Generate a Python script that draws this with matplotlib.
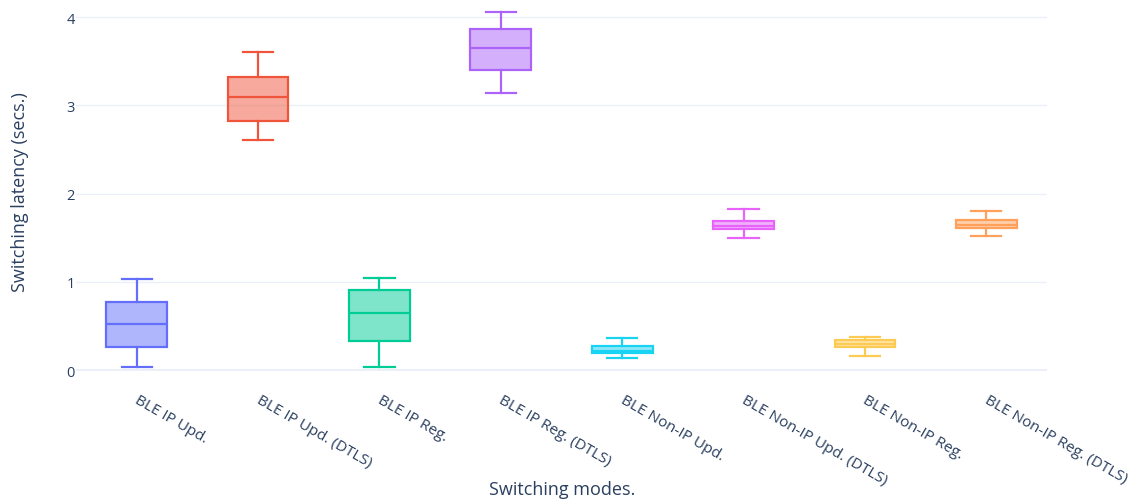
import matplotlib
matplotlib.use("Agg")
import matplotlib.pyplot as plt
import matplotlib.transforms as mtransforms
from matplotlib.colors import to_rgba

plt.rcParams['font.family'] = ['Open Sans', 'DejaVu Sans']

categories = ["BLE IP Upd.", "BLE IP Upd. (DTLS)", "BLE IP Reg.", "BLE IP Reg. (DTLS)",
              "BLE Non-IP Upd.", "BLE Non-IP Upd. (DTLS)", "BLE Non-IP Reg.", "BLE Non-IP Reg. (DTLS)"]
whislo = [0.03, 2.61, 0.03, 3.14, 0.14, 1.50, 0.16, 1.52]
q1     = [0.26, 2.82, 0.33, 3.40, 0.19, 1.60, 0.26, 1.61]
median = [0.52, 3.09, 0.65, 3.65, 0.22, 1.63, 0.30, 1.64]
q3     = [0.77, 3.32, 0.91, 3.86, 0.275, 1.685, 0.34, 1.70]
whishi = [1.03, 3.60, 1.04, 4.06, 0.36, 1.82, 0.37, 1.80]
colors = ["#636EFA", "#EF553B", "#00CC96", "#AB63FA", "#19D3F3", "#E763FA", "#FECB52", "#FFA15A"]

text_color = "#2a3f5f"
grid_color = "#EBF0F8"

W, H = 1137, 502
fig = plt.figure(figsize=(W / 100, H / 100), dpi=100)
left_px, right_px = 76, 1047
top_px, bot_px = 0.35, 381.6
ax = fig.add_axes([left_px / W, (H - bot_px) / H, (right_px - left_px) / W, (bot_px - top_px) / H])

lw = 2.2 * 72 / 100
for i, cat in enumerate(categories):
    stats = [dict(med=median[i], q1=q1[i], q3=q3[i], whislo=whislo[i], whishi=whishi[i],
                  fliers=[], label=cat)]
    c = colors[i]
    ax.bxp(stats, positions=[i], widths=0.5, capwidths=0.25, patch_artist=True,
           showfliers=False,
           boxprops=dict(facecolor=to_rgba(c, 0.5), edgecolor=c, linewidth=lw),
           medianprops=dict(color=c, linewidth=lw),
           whiskerprops=dict(color=c, linewidth=lw),
           capprops=dict(color=c, linewidth=lw))

ax.set_xlim(-0.5, len(categories) - 0.5)
ax.set_ylim(-0.12, 4.2)
ax.set_yticks([0, 1, 2, 3, 4])
ax.set_yticklabels(["0", "1", "2", "3", "4"])
ax.set_xticks(range(len(categories)))
ax.set_xticklabels(categories, rotation=-30, ha='left', va='top', rotation_mode='anchor')

for s in ax.spines.values():
    s.set_visible(False)
ax.tick_params(axis='both', length=0, colors=text_color, labelsize=10.5)
ax.tick_params(axis='x', labelsize=11)
ax.tick_params(axis='y', pad=1)
ax.tick_params(axis='x', pad=8)
offset = mtransforms.ScaledTranslation(3 / 100, 0, fig.dpi_scale_trans)
for lbl in ax.get_xticklabels():
    lbl.set_transform(lbl.get_transform() + offset)

for y in [1, 2, 3, 4]:
    ax.axhline(y, color=grid_color, linewidth=1, zorder=0)
ax.axhline(0, color=grid_color, linewidth=2 * 72 / 100, zorder=0)

fig.text(562 / W, 1 - 490 / H, "Switching modes.", color=text_color, fontsize=13,
         ha='center', va='center')
fig.text(20 / W, 1 - 192 / H, "Switching latency (secs.)", color=text_color, fontsize=13,
         ha='center', va='center', rotation=90)

fig.savefig("out.png", dpi=100)
